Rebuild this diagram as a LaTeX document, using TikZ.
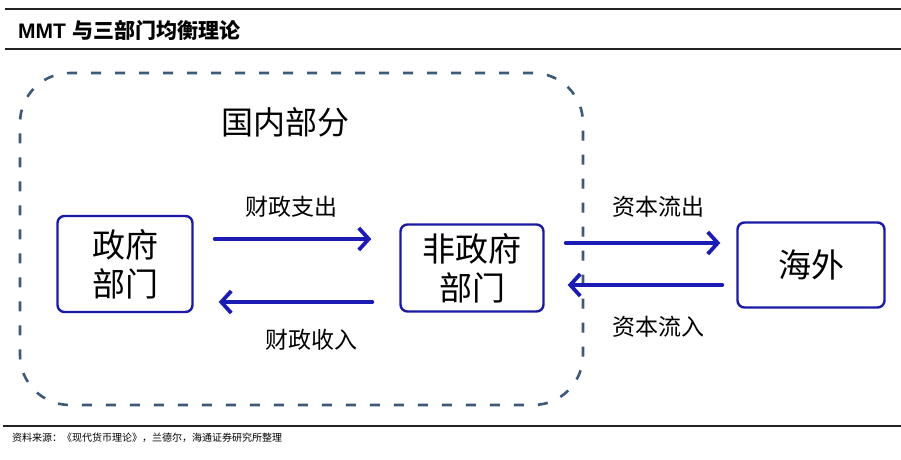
\documentclass[tikz,border=0pt]{standalone}
\usepackage{fontspec}
\usepackage{tikz}
\usetikzlibrary{arrows.meta}
\usepackage{xcolor}
\newfontfamily\cjk{Noto Sans CJK SC}
\newfontfamily\latinsans{Liberation Sans}
\definecolor{sectorblue}{HTML}{1A1AA6}
\definecolor{flowblue}{HTML}{1C1CB4}
\definecolor{domesticgrey}{HTML}{3E5878}
\definecolor{ruleblack}{HTML}{222222}

\tikzset{
  sector/.style={draw=sectorblue, line width=2.4pt, rounded corners=7pt, align=center,
    inner sep=0pt, font=\cjk\fontsize{33}{39}\selectfont},
  flow/.style={flowblue, line width=3.8pt, line cap=round, line join=round,
    -{Straight Barb[length=10pt,width=22pt]}},
  flowlabel/.style={font=\cjk\fontsize{23}{26}\selectfont},
  headrule/.style={ruleblack, line width=1.2pt}
}

\begin{document}
\begin{tikzpicture}[x=1pt, y=-1pt]
    \useasboundingbox (0,0) rectangle (901,459);
    \draw[headrule] (5,9) -- (901,9);
    \draw[headrule] (5,49) -- (901,49);
    \draw[headrule] (3,426) -- (901,426);
    \node[anchor=west, inner sep=0pt] (title) at (18,30)
      {\fontsize{21}{24}\selectfont{\latinsans\bfseries MMT} {\cjk\bfseries 与三部门均衡理论}};
    \node[anchor=west, inner sep=0pt, font=\cjk\fontsize{10}{12}\selectfont] (source) at (12,438)
      {资料来源：《现代货币理论》，兰德尔，海通证券研究所整理};

    \node[draw=domesticgrey, line width=2.6pt, dash pattern=on 10pt off 14pt,
      rounded corners=50pt, minimum width=563pt, minimum height=332pt] (domestic) at (301.5,239) {};
    \node[font=\cjk\fontsize{32}{36}\selectfont] (domesticlabel) at (285,122) {国内部分};

    \node[sector, minimum width=135pt, minimum height=96pt] (gov) at (125,264) {政府\\部门};
    \node[sector, minimum width=143pt, minimum height=87pt] (nongov) at (472,268) {非政府\\部门};
    \node[sector, minimum width=147pt, minimum height=85pt] (abroad) at (811,265) {海外};

    \draw[flow, shorten <=21pt, shorten >=28pt] ([yshift=25pt]gov.east) -- ([yshift=29pt]nongov.west);
    \draw[flow, shorten <=27pt, shorten >=25pt] ([yshift=-34pt]nongov.west) -- ([yshift=-38pt]gov.east);
    \draw[flow, shorten <=21pt, shorten >=16pt] ([yshift=25pt]nongov.east) -- ([yshift=22pt]abroad.west);
    \draw[flow, shorten <=14pt, shorten >=23pt] ([yshift=-20pt]abroad.west) -- ([yshift=-17pt]nongov.east);

    \node[flowlabel] (spendlabel) at (291,207) {财政支出};
    \node[flowlabel] (revenuelabel) at (311,340) {财政收入};
    \node[flowlabel] (outlabel) at (658,207) {资本流出};
    \node[flowlabel] (inlabel) at (658,327) {资本流入};
  \end{tikzpicture}
\end{document}
